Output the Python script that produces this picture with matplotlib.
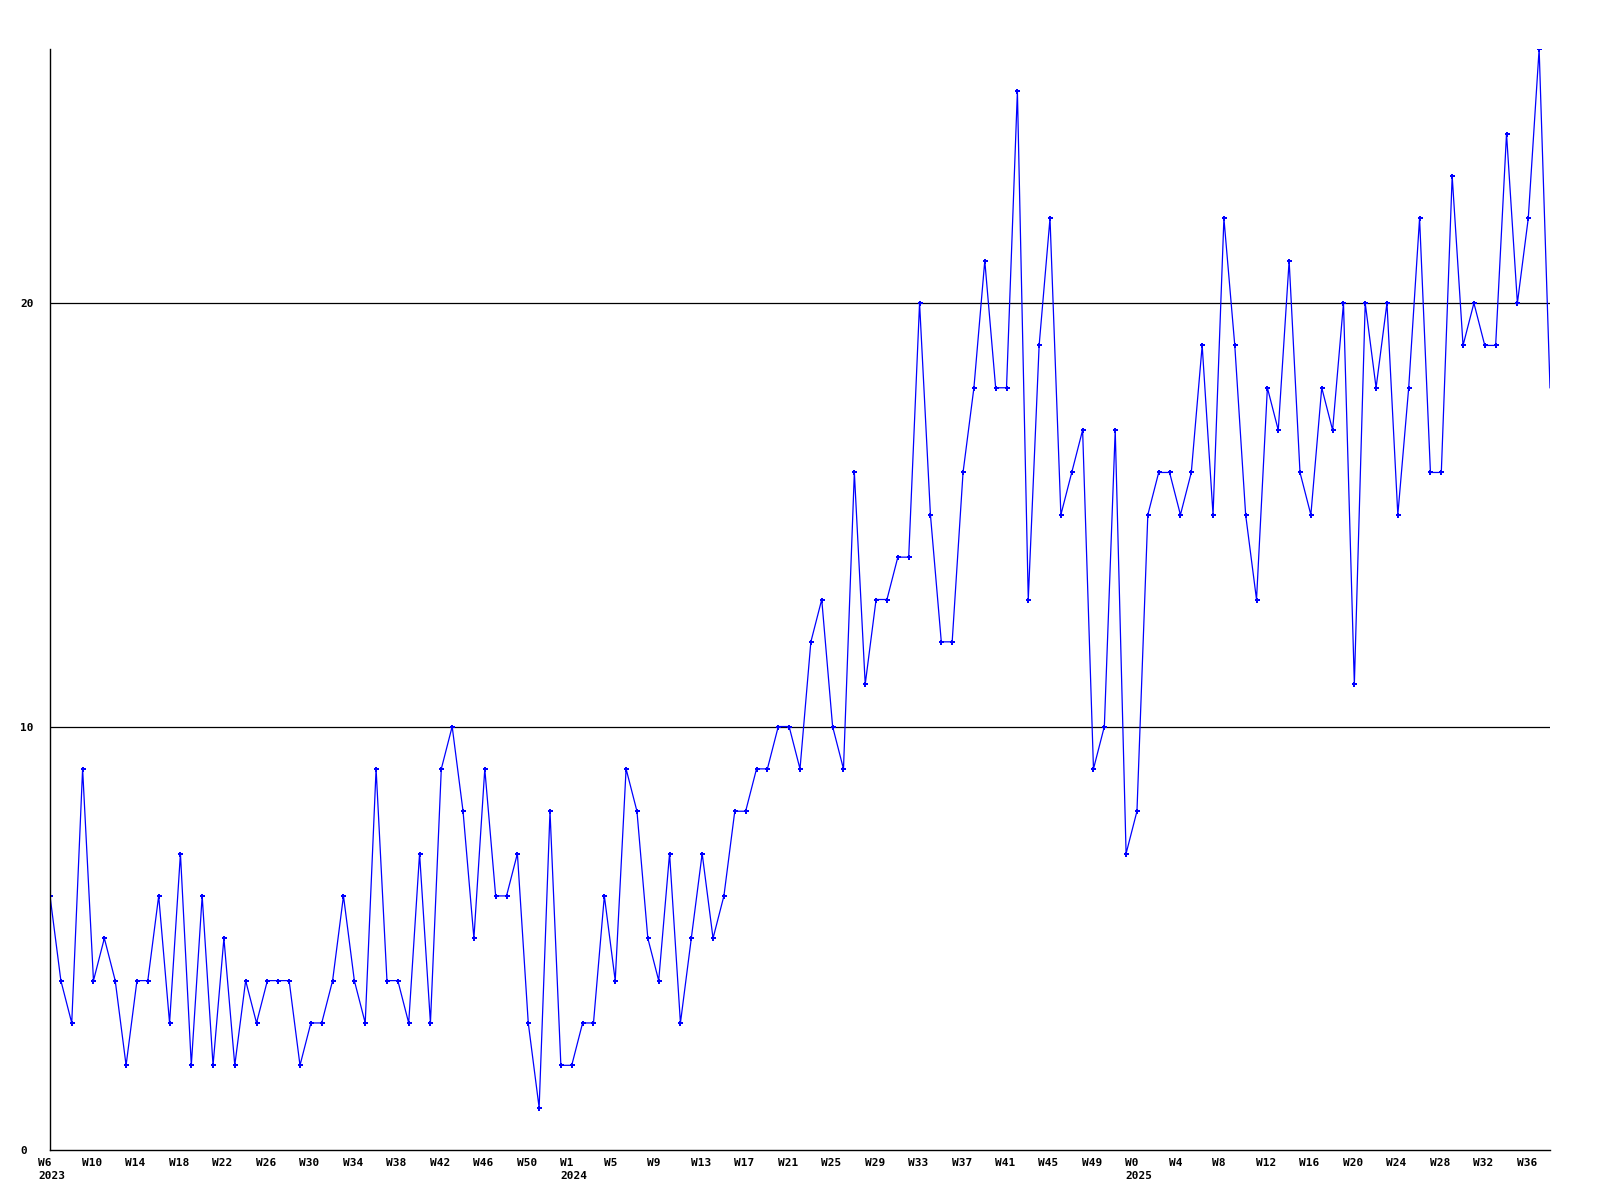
import matplotlib
matplotlib.use("Agg")
import matplotlib.pyplot as plt
from matplotlib.transforms import ScaledTranslation

# weekly values, W6 2023 .. W38 2025
values_2023 = [6, 4, 3, 9, 4, 5, 4, 2, 4, 4, 6, 3, 7, 2, 6, 2, 5, 2, 4, 3,
               4, 4, 4, 2, 3, 3, 4, 6, 4, 3, 9, 4, 4, 3, 7, 3, 9, 10, 8, 5,
               9, 6, 6, 7, 3, 1, 8]
values_2024 = [2, 2, 3, 3, 6, 4, 9, 8, 5, 4, 7, 3, 5, 7, 5, 6, 8, 8, 9, 9,
               10, 10, 9, 12, 13, 10, 9, 16, 11, 13, 13, 14, 14, 20, 15, 12,
               12, 16, 18, 21, 18, 18, 25, 13, 19, 22, 15, 16, 17, 9, 10, 17, 7]
values_2025 = [8, 15, 16, 16, 15, 16, 19, 15, 22, 19, 15, 13, 18, 17, 21, 16,
               15, 18, 17, 20, 11, 20, 18, 20, 15, 18, 22, 16, 16, 23, 19, 20,
               19, 19, 24, 20, 22, 26, 18]
values = values_2023 + values_2024 + values_2025

# tick labels every 4th week
week_labels = (["W%d" % w for w in range(6, 51, 4)]
               + ["W%d" % w for w in range(1, 50, 4)]
               + ["W%d" % w for w in range(0, 37, 4)])
year_labels = {"W6": "2023", "W1": "2024", "W0": "2025"}

fig = plt.figure(figsize=(16, 12), dpi=100)
ax = fig.add_axes([50 / 1600, 50 / 1200, 1500 / 1600, 1101 / 1200])

x = list(range(len(values)))
ax.plot(x, values, color="#0000ff", linewidth=0.9, marker="P", markersize=3.6,
        markeredgewidth=0, markevery=list(range(len(values) - 1)))

for level in (10, 20):
    ax.axhline(level, color="black", linewidth=0.9, zorder=0)

ax.set_xlim(0, len(values) - 1)
ax.set_ylim(0, 26)

for side in ("top", "right"):
    ax.spines[side].set_visible(False)
for side in ("left", "bottom"):
    ax.spines[side].set_linewidth(1.0)

font = dict(family="DejaVu Sans Mono", weight="bold", size=8)

ax.set_yticks([0, 10, 20])
ax.set_yticklabels(["0", "10", "20"], ha="left", **font)
ax.tick_params(axis="y", length=0, pad=21.6)

ticks = list(range(0, len(week_labels) * 4, 4))
labels = []
for w in week_labels:
    if w in year_labels and (w != "W1" or len(labels) > 0) and not (w == "W6" and len(labels) > 0):
        labels.append(w + "\n" + year_labels[w])
    else:
        labels.append(w)
ax.set_xticks(ticks)
ax.set_xticklabels(labels, ha="left", linespacing=1.3, **font)
ax.tick_params(axis="x", length=0, pad=6)
offset = ScaledTranslation(-11.5 / 100, 0, fig.dpi_scale_trans)
for lab in ax.get_xticklabels():
    lab.set_transform(lab.get_transform() + offset)

fig.savefig("out.png", dpi=100)
